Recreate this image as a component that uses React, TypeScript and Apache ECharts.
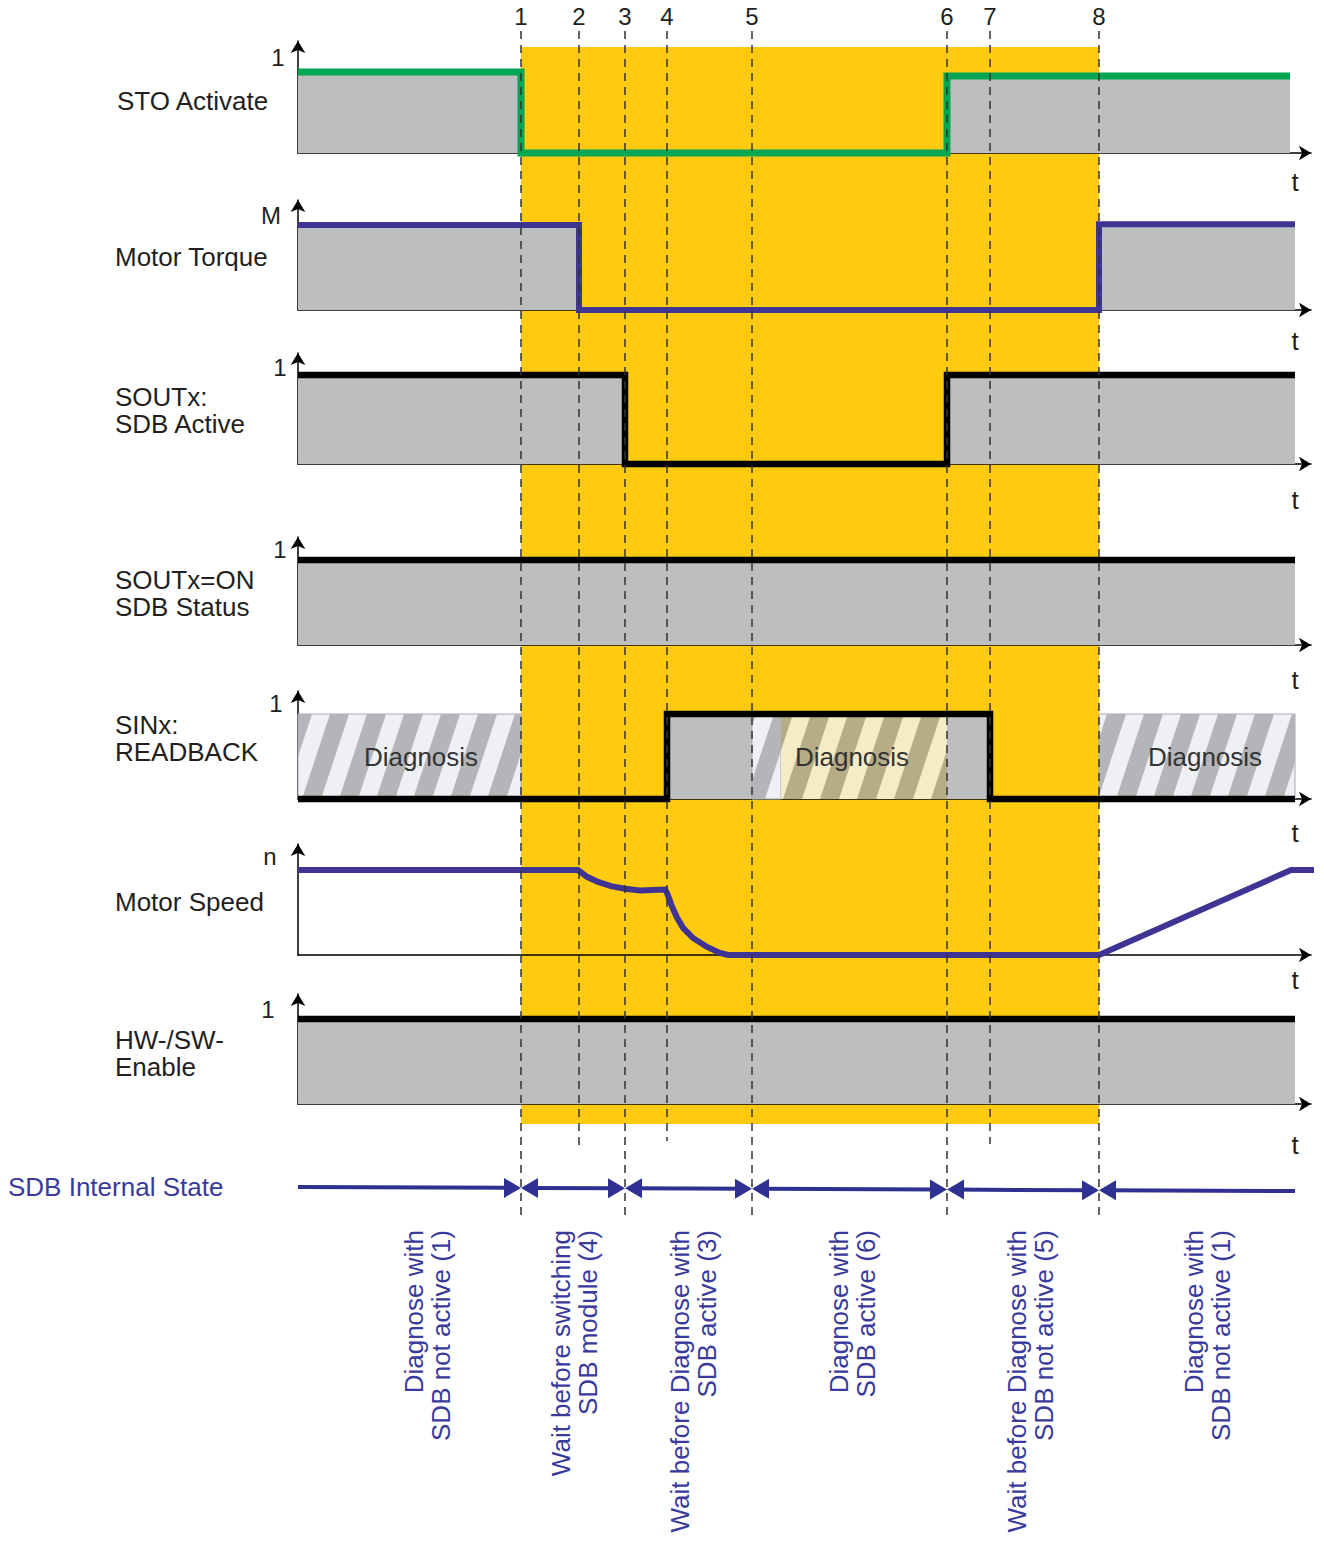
import React, { useEffect, useRef } from 'react';
import * as echarts from 'echarts';

// ---------- DATA (time t: 0 = vertical axes, arbitrary units) ----------
const markerLabels = ['1', '2', '3', '4', '5', '6', '7', '8'];
const markerTimes = [223, 281, 327, 369, 454, 649, 692, 801];

const stoActivate = [[0, 1], [223, 1], [223, 0], [649, 0], [649, 0.95], [992, 0.95]];
const motorTorque = [[0, 1], [281, 1], [281, 0], [801, 0], [801, 1.01], [997, 1.01]];
const soutSdbActive = [[0, 1], [327, 1], [327, 0], [649, 0], [649, 1], [997, 1]];
const soutOnStatus = [[0, 1], [997, 1]];
const sinxReadback = [[0, 0], [369, 0], [369, 1], [692, 1], [692, 0], [997, 0]];
const sinxBlockKinds = ['diag', 'solid', 'diagTint'];
const sinxBlocks = [
  { start: 0, end: 223, kind: 'diag' },
  { start: 369, end: 454, kind: 'solid' },
  { start: 454, end: 483, kind: 'diag' },
  { start: 483, end: 649, kind: 'diagTint' },
  { start: 649, end: 692, kind: 'solid' },
  { start: 801, end: 997, kind: 'diag' },
];
const motorSpeed = [
  [0, 1], [280, 1], [289, 0.92], [300, 0.86], [313, 0.81], [327, 0.78], [342, 0.76],
  [367, 0.77], [369, 0.73], [371, 0.67], [374, 0.57], [379, 0.44], [385, 0.32],
  [395, 0.2], [409, 0.095], [422, 0.025], [430, 0], [801, 0], [993, 1], [1020, 1],
];
const hwSwEnable = [[0, 1], [997, 1]];

const stateBoundaries = [0, 223, 327, 454, 649, 801, 997];
const stateLabels = [
  'Diagnose with\nSDB not active (1)',
  'Wait before switching\nSDB module (4)',
  'Wait before Diagnose with\nSDB active (3)',
  'Diagnose with\nSDB active (6)',
  'Wait before Diagnose with\nSDB not active (5)',
  'Diagnose with\nSDB not active (1)',
];
const trackNames = [
  'STO Activate', 'Motor Torque', 'SOUTx:\nSDB Active', 'SOUTx=ON\nSDB Status',
  'SINx:\nREADBACK', 'Motor Speed', 'HW-/SW-\nEnable',
];
const trackTopLabels = ['1', 'M', '1', '1', '1', 'n', '1'];
const diagnosisText = 'Diagnosis';
const stateTitle = 'SDB Internal State';
const axisName = 't';

// ---------- LAYOUT / STYLE ----------
const W = 1324;
const H = 1541;
const AX_LEFT = 298;
const AX_END = 1311;
const X_MAX = AX_END - AX_LEFT;
const FONT = '"Liberation Sans", Arial, Helvetica, sans-serif';
const GRAY = '#bcbec0';
const YELLOW = '#fecb10';
const BLACK = '#000000';
const GREEN = '#00a651';
const PURPLE = '#3f3494';
const STATE_BLUE = '#2e3192';
const LABEL_BLUE = '#3a3a9c';
const TEXT = '#231f20';

const trackLayout = [
  { tip: 35, base: 153, high: 72, nameX: 117, nameY: 101, topX: 278, topY: 57, tY: 182 },
  { tip: 194, base: 310, high: 225, nameX: 115, nameY: 257, topX: 271, topY: 215, tY: 341 },
  { tip: 347, base: 464, high: 375, nameX: 115, nameY: 410.5, topX: 280, topY: 367, tY: 500 },
  { tip: 531, base: 645, high: 560, nameX: 115, nameY: 593, topX: 280, topY: 549, tY: 680 },
  { tip: 685, base: 799, high: 714, nameX: 115, nameY: 738.5, topX: 276, topY: 703, tY: 833 },
  { tip: 838, base: 955, high: 870, nameX: 115, nameY: 902, topX: 270, topY: 856, tY: 980 },
  { tip: 988, base: 1104, high: 1019, nameX: 115, nameY: 1053, topX: 268, topY: 1009, tY: 1145 },
];
const trackStyle = [
  { data: stoActivate, color: GREEN, width: 7, fill: true },
  { data: motorTorque, color: PURPLE, width: 6, fill: true },
  { data: soutSdbActive, color: BLACK, width: 6.5, fill: true },
  { data: soutOnStatus, color: BLACK, width: 6.5, fill: true },
  { data: sinxReadback, color: BLACK, width: 6.5, fill: false },
  { data: motorSpeed, color: PURPLE, width: 6, fill: false },
  { data: hwSwEnable, color: BLACK, width: 6.5, fill: true },
];
const markerLineEnd = [1220, 1150, 1220, 1141, 1220, 1220, 1144, 1220];
const stateLabelDx = [18, 1, 5, 3, 7, 10];
const diagnosisPos = [[421, 757], [852, 757], [1205, 757]];
const BAND_TOP = 47;
const BAND_BOTTOM = 1124;
const OVERLAY = trackLayout.length;

function clipHalf(pts: number[][], x: number, keepGreater: boolean) {
  const out: number[][] = [];
  for (let i = 0; i < pts.length; i++) {
    const a = pts[i];
    const b = pts[(i + 1) % pts.length];
    const ina = keepGreater ? a[0] >= x : a[0] <= x;
    const inb = keepGreater ? b[0] >= x : b[0] <= x;
    if (ina) out.push(a);
    if (ina !== inb) {
      const r = (x - a[0]) / (b[0] - a[0]);
      out.push([x, a[1] + r * (b[1] - a[1])]);
    }
  }
  return out;
}

function stateY(t: number) {
  return 1187 + (4 * t) / 997;
}

function buildOption() {
  const grids: any[] = [];
  const xAxes: any[] = [];
  const yAxes: any[] = [];
  const series: any[] = [];
  const graphics: any[] = [];

  trackLayout.forEach((L, i) => {
    const top = L.tip + 6;
    grids.push({ left: AX_LEFT, right: W - AX_END, top, height: L.base - top });
    xAxes.push({
      gridIndex: i, type: 'value', min: 0, max: X_MAX, z: 1,
      axisLine: { show: true, onZero: true, symbol: ['none', 'arrow'], symbolSize: [11, 12], lineStyle: { color: BLACK, width: 1.5 } },
      axisTick: { show: false }, axisLabel: { show: false }, splitLine: { show: false },
    });
    yAxes.push({
      gridIndex: i, type: 'value', min: 0, max: (L.base - top) / (L.base - L.high), z: 1,
      axisLine: { show: true, onZero: false, symbol: ['none', 'arrow'], symbolSize: [11, 12], lineStyle: { color: BLACK, width: 1.5 } },
      axisTick: { show: false }, axisLabel: { show: false }, splitLine: { show: false },
    });
    const S = trackStyle[i];
    series.push({
      type: 'line', xAxisIndex: i, yAxisIndex: i, data: S.data, symbol: 'none', showSymbol: false,
      clip: false, z: 3,
      lineStyle: { color: S.color, width: S.width, join: 'miter', cap: 'butt' },
      areaStyle: S.fill ? { color: GRAY, opacity: 1 } : undefined,
    });
    graphics.push({
      type: 'text', x: L.nameX, y: L.nameY, z: 10,
      style: { text: trackNames[i], font: '26px ' + FONT, fill: TEXT, textAlign: 'left', align: 'left', textVerticalAlign: 'middle', verticalAlign: 'middle', lineHeight: 27 },
    });
    graphics.push({
      type: 'text', x: L.topX, y: L.topY, z: 10,
      style: { text: trackTopLabels[i], font: '24px ' + FONT, fill: TEXT, textAlign: 'center', align: 'center', textVerticalAlign: 'middle', verticalAlign: 'middle' },
    });
    graphics.push({
      type: 'text', x: 1295, y: L.tY, z: 10,
      style: { text: axisName, font: '26px ' + FONT, fill: TEXT, textAlign: 'center', align: 'center', textVerticalAlign: 'middle', verticalAlign: 'middle' },
    });
  });

  // SINx diagnosis blocks (hatched / solid)
  series.push({
    type: 'custom', xAxisIndex: 4, yAxisIndex: 4, z: 2, silent: true,
    data: sinxBlocks.map((b) => [b.start, b.end, sinxBlockKinds.indexOf(b.kind)]),
    renderItem: (params: any, api: any) => {
      const s = api.value(0);
      const e = api.value(1);
      const kind = sinxBlockKinds[api.value(2)];
      const p0 = api.coord([s, 1]);
      const p1 = api.coord([e, 0]);
      const origin = api.coord([0, 0])[0];
      const x0 = p0[0], yT = p0[1], x1 = p1[0], yB = p1[1];
      if (kind === 'solid') {
        return { type: 'rect', shape: { x: x0, y: yT, width: x1 - x0, height: yB - yT }, style: { fill: GRAY } };
      }
      const tint = kind === 'diagTint';
      const light = tint ? '#f4ebc7' : '#eff0f5';
      const dark = tint ? '#b6ac87' : '#b4b5b8';
      const children: any[] = [
        { type: 'rect', shape: { x: x0, y: yT, width: x1 - x0, height: yB - yT }, style: { fill: light, stroke: tint ? 'none' : '#a9abae', lineWidth: 1 } },
      ];
      const P = 37, Wd = 19, SH = 28, phase = 4;
      const kStart = Math.floor((x0 - SH - Wd - origin - phase) / P) - 1;
      const kEnd = Math.ceil((x1 - origin - phase) / P) + 1;
      for (let k = kStart; k <= kEnd; k++) {
        const bx = origin + phase + k * P;
        let poly = [[bx, yB], [bx + Wd, yB], [bx + Wd + SH, yT], [bx + SH, yT]];
        poly = clipHalf(poly, x0, true);
        if (poly.length >= 3) poly = clipHalf(poly, x1, false);
        if (poly.length >= 3) children.push({ type: 'polygon', shape: { points: poly }, style: { fill: dark } });
      }
      return { type: 'group', children };
    },
  });

  // overlay grid: y value = page pixel
  grids.push({ left: AX_LEFT, right: W - AX_END, top: 0, height: H });
  xAxes.push({ gridIndex: OVERLAY, type: 'value', min: 0, max: X_MAX, show: false });
  yAxes.push({ gridIndex: OVERLAY, type: 'value', min: 0, max: H, inverse: true, show: false });

  // yellow band
  series.push({
    type: 'custom', xAxisIndex: OVERLAY, yAxisIndex: OVERLAY, z: 0, silent: true,
    data: [[markerTimes[0], markerTimes[markerTimes.length - 1]]],
    renderItem: (params: any, api: any) => {
      const a = api.coord([api.value(0), BAND_TOP]);
      const b = api.coord([api.value(1), BAND_BOTTOM]);
      return { type: 'rect', shape: { x: a[0], y: a[1], width: b[0] - a[0], height: b[1] - a[1] }, style: { fill: YELLOW } };
    },
  });

  // dashed time markers + numbers
  series.push({
    type: 'custom', xAxisIndex: OVERLAY, yAxisIndex: OVERLAY, z: 8, silent: true,
    data: markerTimes.map((t, i) => [t, i]),
    renderItem: (params: any, api: any) => {
      const i = api.value(1);
      const a = api.coord([api.value(0), 31]);
      const b = api.coord([api.value(0), markerLineEnd[i]]);
      const n = api.coord([api.value(0), 16]);
      return {
        type: 'group',
        children: [
          { type: 'line', shape: { x1: a[0], y1: a[1], x2: b[0], y2: b[1] }, style: { stroke: '#333333', lineWidth: 1.5, lineDash: [8, 6] } },
          { type: 'text', x: n[0], y: n[1], style: { text: markerLabels[i], font: '24px ' + FONT, fill: TEXT, textAlign: 'center', align: 'center', textVerticalAlign: 'middle', verticalAlign: 'middle' } },
        ],
      };
    },
  });

  // SDB internal state arrows + rotated labels
  const nSeg = stateBoundaries.length - 1;
  series.push({
    type: 'custom', xAxisIndex: OVERLAY, yAxisIndex: OVERLAY, z: 8, silent: true,
    data: stateBoundaries.slice(0, -1).map((s, i) => [s, stateBoundaries[i + 1], i]),
    renderItem: (params: any, api: any) => {
      const s = api.value(0);
      const e = api.value(1);
      const i = api.value(2);
      const ps = api.coord([s, stateY(s)]);
      const pe = api.coord([e, stateY(e)]);
      const L = 17, HH = 10;
      const children: any[] = [
        { type: 'line', shape: { x1: ps[0] + (i > 0 ? 4 : 0), y1: ps[1], x2: pe[0] - (i < nSeg - 1 ? 4 : 0), y2: pe[1] }, style: { stroke: STATE_BLUE, lineWidth: 4 } },
      ];
      if (i > 0) children.push({ type: 'polygon', shape: { points: [[ps[0], ps[1]], [ps[0] + L, ps[1] - HH], [ps[0] + L, ps[1] + HH]] }, style: { fill: STATE_BLUE } });
      if (i < nSeg - 1) children.push({ type: 'polygon', shape: { points: [[pe[0], pe[1]], [pe[0] - L, pe[1] - HH], [pe[0] - L, pe[1] + HH]] }, style: { fill: STATE_BLUE } });
      const ly = api.coord([s, 1230])[1];
      children.push({
        type: 'text', x: (ps[0] + pe[0]) / 2 + stateLabelDx[i], y: ly, rotation: Math.PI / 2,
        style: { text: stateLabels[i], font: '26px ' + FONT, fill: LABEL_BLUE, textAlign: 'right', align: 'right', textVerticalAlign: 'middle', verticalAlign: 'middle', lineHeight: 27 },
      });
      return { type: 'group', children };
    },
  });

  diagnosisPos.forEach((p) => {
    graphics.push({
      type: 'text', x: p[0], y: p[1], z: 10,
      style: { text: diagnosisText, font: '26px ' + FONT, fill: '#333333', textAlign: 'center', align: 'center', textVerticalAlign: 'middle', verticalAlign: 'middle' },
    });
  });
  graphics.push({
    type: 'text', x: 8, y: 1187, z: 10,
    style: { text: stateTitle, font: '26px ' + FONT, fill: LABEL_BLUE, textAlign: 'left', align: 'left', textVerticalAlign: 'middle', verticalAlign: 'middle' },
  });

  return {
    animation: false,
    backgroundColor: '#ffffff',
    grid: grids,
    xAxis: xAxes,
    yAxis: yAxes,
    series,
    graphic: { elements: graphics },
  };
}

export default function App() {
  const ref = useRef<HTMLDivElement>(null);
  useEffect(() => {
    if (!ref.current) return;
    const chart = echarts.init(ref.current, undefined, { renderer: 'svg' });
    chart.setOption(buildOption() as any);
    return () => chart.dispose();
  }, []);
  return <div ref={ref} style={{ position: 'absolute', left: 0, top: 0, width: W, height: H }} />;
}
